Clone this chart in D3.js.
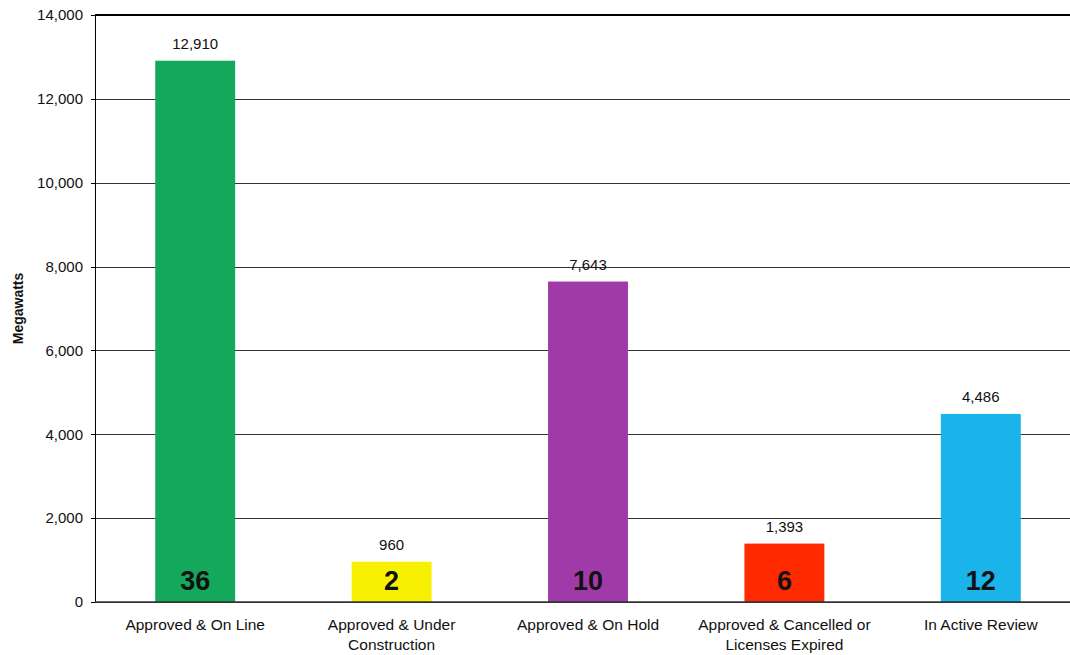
<!DOCTYPE html>
<html>
<head>
<meta charset="utf-8">
<script src="https://cdn.jsdelivr.net/npm/d3@7"></script>
<style>
body { margin: 0; background: #fff; }
text { font-family: "Liberation Sans", Arial, sans-serif; fill: #111; }
.grid line { stroke: #333; stroke-width: 1px; shape-rendering: crispEdges; }
.grid path { display: none; }
.yaxis path, .yaxis line { stroke: #000; shape-rendering: crispEdges; }
</style>
</head>
<body>
<svg id="chart" width="1070" height="655"></svg>
<script>
var categories = [
  ["Approved & On Line"],
  ["Approved & Under", "Construction"],
  ["Approved & On Hold"],
  ["Approved & Cancelled or", "Licenses Expired"],
  ["In Active Review"]
];
var megawatts = [12910, 960, 7643, 1393, 4486];
var projectCounts = [36, 2, 10, 6, 12];
var barColors = ["#14a85c", "#f7f000", "#a03aa8", "#ff2a00", "#18b4ea"];
var yTicks = [0, 2000, 4000, 6000, 8000, 10000, 12000, 14000];

var svg = d3.select("#chart");
var plotLeft = 95, plotRight = 1079, plotTop = 15, plotBottom = 602;

var x = d3.scaleBand().domain(d3.range(categories.length))
  .range([plotLeft + 2, plotRight]).paddingInner(0.593).paddingOuter(0.2965);
var y = d3.scaleLinear().domain([0, 14000]).range([plotBottom, plotTop]);

// gridlines
svg.append("g").attr("class", "grid")
  .attr("transform", "translate(" + plotLeft + ",0)")
  .call(d3.axisRight(y).tickValues(yTicks).tickSize(1070 - plotLeft).tickFormat(""));

// top border
svg.append("line").attr("x1", plotLeft).attr("x2", 1070)
  .attr("y1", y(14000)).attr("y2", y(14000))
  .attr("stroke", "#000").attr("stroke-width", 2);

// bars
svg.selectAll("rect.bar").data(megawatts).enter().append("rect")
  .attr("class", "bar")
  .attr("x", function(d, i) { return x(i); })
  .attr("width", x.bandwidth())
  .attr("y", function(d) { return y(d); })
  .attr("height", function(d) { return y(0) - y(d); })
  .attr("fill", function(d, i) { return barColors[i]; });

// y axis
var yAxis = svg.append("g").attr("class", "yaxis")
  .attr("transform", "translate(" + plotLeft + ",0)")
  .call(d3.axisLeft(y).tickValues(yTicks).tickSize(4).tickSizeOuter(0)
    .tickFormat(d3.format(",")));
yAxis.selectAll("text").attr("font-size", 15).attr("x", -12).style("fill", "#111");
yAxis.select(".domain").attr("stroke-width", 1.5);

// bottom axis line
svg.append("line").attr("x1", plotLeft).attr("x2", 1070)
  .attr("y1", y(0)).attr("y2", y(0))
  .attr("stroke", "#333").attr("stroke-width", 1.5);

// value labels
svg.selectAll("text.val").data(megawatts).enter().append("text")
  .attr("class", "val")
  .attr("x", function(d, i) { return x(i) + x.bandwidth() / 2; })
  .attr("y", function(d) { return y(d) - 12; })
  .attr("text-anchor", "middle").attr("font-size", 15)
  .text(d3.format(","));

// count labels
svg.selectAll("text.count").data(projectCounts).enter().append("text")
  .attr("class", "count")
  .attr("x", function(d, i) { return x(i) + x.bandwidth() / 2; })
  .attr("y", y(0) - 12)
  .attr("text-anchor", "middle").attr("font-size", 27).attr("font-weight", "bold")
  .text(function(d) { return d; });

// category labels
svg.selectAll("text.cat").data(categories).enter().append("text")
  .attr("class", "cat")
  .attr("text-anchor", "middle").attr("font-size", 15.5)
  .attr("transform", function(d, i) {
    return "translate(" + (x(i) + x.bandwidth() / 2) + "," + (y(0) + 28) + ")";
  })
  .selectAll("tspan").data(function(d) { return d; }).enter().append("tspan")
  .attr("x", 0).attr("dy", function(d, j) { return j ? 20 : 0; })
  .text(function(d) { return d; });

// y title
svg.append("text")
  .attr("transform", "translate(23," + ((plotTop + plotBottom) / 2) + ") rotate(-90)")
  .attr("text-anchor", "middle").attr("font-size", 14).attr("font-weight", "bold")
  .text("Megawatts");
</script>
</body>
</html>
